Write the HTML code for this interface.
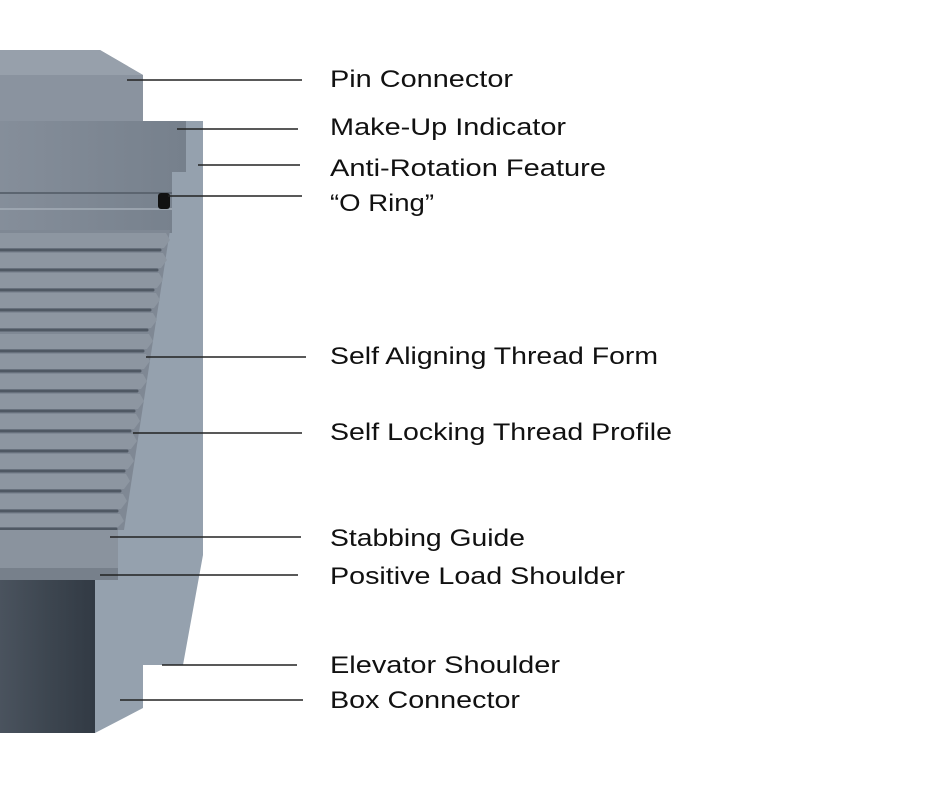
<!DOCTYPE html>
<html><head><meta charset="utf-8"><style>
html,body{margin:0;padding:0;background:#fff;}
svg{display:block;}
text{font-family:"Liberation Sans",sans-serif;font-size:24px;fill:#111;}
</style></head><body>
<svg width="925" height="788" viewBox="0 0 925 788" xmlns="http://www.w3.org/2000/svg">
<defs>
<linearGradient id="dark" x1="0" x2="1"><stop offset="0" stop-color="#4a535e"/><stop offset="0.5" stop-color="#3d4650"/><stop offset="1" stop-color="#323a44"/></linearGradient>
<linearGradient id="pin" x1="0" x2="1"><stop offset="0" stop-color="#858e9a"/><stop offset="1" stop-color="#76808c"/></linearGradient>
</defs>
<!-- box -->
<polygon points="143,121 203,121 203,555 183,665 143,665 143,708 95,733 95,580 0,580 0,121" fill="#95a1ae"/>
<!-- dark pipe -->
<rect x="0" y="580" width="95" height="153" fill="url(#dark)"/>
<!-- pin top -->
<polygon points="0,50 100,50 143,75 143,121 0,121" fill="#8a939f"/>
<polygon points="0,50 100,50 143,75 0,75" fill="#97a0ab"/>
<!-- make-up region -->
<polygon points="0,121 186,121 186,172 172,172 172,233 0,233" fill="url(#pin)"/>
<line x1="0" y1="193" x2="172" y2="193" stroke="#5c6570" stroke-width="2"/>
<line x1="0" y1="209" x2="172" y2="209" stroke="#a4adb7" stroke-width="1.5"/>
<rect x="158" y="193" width="12" height="16" rx="3" fill="#111"/>
<!-- thread body -->
<polygon points="0,230 170,230 124,530 0,530" fill="#7f8894"/>
<g stroke-linecap="round">
<g fill="#8d96a1">
<polygon points="0,233 166,233 170,240 164,248 0,248"/>
<polygon points="0,253 163,253 167,260 161,268 0,268"/>
<polygon points="0,273 159,273 163,280 157,288 0,288"/>
<polygon points="0,293 156,293 160,300 154,308 0,308"/>
<polygon points="0,313 153,313 157,320 151,328 0,328"/>
<polygon points="0,334 149,334 153,341 147,349 0,349"/>
<polygon points="0,354 146,354 150,361 144,369 0,369"/>
<polygon points="0,374 143,374 147,381 141,389 0,389"/>
<polygon points="0,394 140,394 144,401 138,409 0,409"/>
<polygon points="0,414 136,414 140,421 134,429 0,429"/>
<polygon points="0,434 133,434 137,441 131,449 0,449"/>
<polygon points="0,454 130,454 134,461 128,469 0,469"/>
<polygon points="0,474 126,474 130,481 124,489 0,489"/>
<polygon points="0,494 123,494 127,501 121,509 0,509"/>
<polygon points="0,514 120,514 124,521 118,527 0,527"/>
</g>
<g stroke="#4f5863" stroke-width="3">
<line x1="0" y1="250" x2="160" y2="250"/><line x1="0" y1="270" x2="157" y2="270"/>
<line x1="0" y1="290" x2="153" y2="290"/><line x1="0" y1="310" x2="150" y2="310"/>
<line x1="0" y1="330" x2="147" y2="330"/><line x1="0" y1="351" x2="143" y2="351"/>
<line x1="0" y1="371" x2="140" y2="371"/><line x1="0" y1="391" x2="137" y2="391"/>
<line x1="0" y1="411" x2="134" y2="411"/><line x1="0" y1="431" x2="130" y2="431"/>
<line x1="0" y1="451" x2="127" y2="451"/><line x1="0" y1="471" x2="124" y2="471"/>
<line x1="0" y1="491" x2="120" y2="491"/><line x1="0" y1="511" x2="117" y2="511"/>
<line x1="0" y1="529" x2="116" y2="529"/>
</g>
</g>
<!-- stabbing guide -->
<rect x="0" y="530" width="118" height="38" fill="#8a939e"/>
<rect x="0" y="568" width="118" height="12" fill="#77808b"/>
<!-- leader lines -->
<g stroke="#222" stroke-width="1.5">
<line x1="127" y1="80" x2="302" y2="80"/>
<line x1="177" y1="129" x2="298" y2="129"/>
<line x1="198" y1="165" x2="300" y2="165"/>
<line x1="168" y1="196" x2="302" y2="196"/>
<line x1="146" y1="357" x2="306" y2="357"/>
<line x1="133" y1="433" x2="302" y2="433"/>
<line x1="110" y1="537" x2="301" y2="537"/>
<line x1="100" y1="575" x2="298" y2="575"/>
<line x1="162" y1="665" x2="297" y2="665"/>
<line x1="120" y1="700" x2="303" y2="700"/>
</g>
<text x="330" y="87" textLength="183" lengthAdjust="spacingAndGlyphs">Pin Connector</text>
<text x="330" y="135" textLength="236" lengthAdjust="spacingAndGlyphs">Make-Up Indicator</text>
<text x="330" y="176" textLength="276" lengthAdjust="spacingAndGlyphs">Anti-Rotation Feature</text>
<text x="330" y="211" textLength="104" lengthAdjust="spacingAndGlyphs">“O Ring”</text>
<text x="330" y="364" textLength="328" lengthAdjust="spacingAndGlyphs">Self Aligning Thread Form</text>
<text x="330" y="440" textLength="342" lengthAdjust="spacingAndGlyphs">Self Locking Thread Profile</text>
<text x="330" y="546" textLength="195" lengthAdjust="spacingAndGlyphs">Stabbing Guide</text>
<text x="330" y="584" textLength="295" lengthAdjust="spacingAndGlyphs">Positive Load Shoulder</text>
<text x="330" y="673" textLength="230" lengthAdjust="spacingAndGlyphs">Elevator Shoulder</text>
<text x="330" y="708" textLength="190" lengthAdjust="spacingAndGlyphs">Box Connector</text>
</svg>
</body></html>
